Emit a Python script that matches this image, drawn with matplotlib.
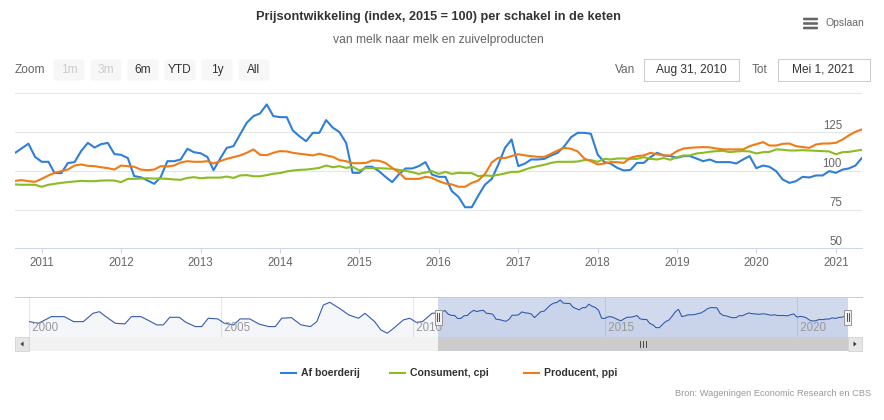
import matplotlib
matplotlib.use('Agg')
import matplotlib.pyplot as plt
import matplotlib.dates as mdates
from matplotlib.patches import Rectangle, FancyBboxPatch, Polygon
import pandas as pd

plt.rcParams['font.family'] = ['Liberation Sans Narrow', 'Liberation Sans', 'DejaVu Sans']

W, H = 884, 420

# ---- data -------------------------------------------------------------
months = pd.date_range('2010-09-01', '2021-05-01', freq='MS')

af_boerderij = [
    111.6, 114.5, 117.5, 109.0,
    105.8, 105.8, 98.5, 98.5, 105.0, 105.6, 112.7, 118.0, 115.0, 117.2, 118.0, 110.8,
    110.3, 108.2, 96.6, 95.8, 93.8, 91.6, 95.9, 106.2, 106.2, 107.3, 114.2, 112.0,
    111.3, 108.9, 100.4, 107.9, 114.8, 115.9, 123.4, 131.0, 135.3, 137.0, 142.8, 135.3,
    134.6, 134.6, 126.0, 122.2, 119.1, 124.5, 124.5, 132.7, 127.8, 125.0, 118.0, 98.7,
    98.7, 102.6, 102.6, 99.8, 96.1, 92.7, 97.6, 101.5, 101.5, 103.0, 105.6, 97.6,
    96.1, 96.1, 86.9, 83.2, 76.5, 76.5, 84.0, 91.1, 94.8, 104.0, 114.8, 120.2,
    103.0, 104.7, 107.3, 107.3, 107.7, 109.9, 111.6, 115.9, 121.7, 124.5, 124.5, 123.9,
    110.5, 105.6, 104.7, 101.9, 100.2, 100.6, 105.1, 105.1, 108.8, 111.6, 109.9, 109.5,
    108.4, 109.5, 109.5, 107.9, 106.2, 107.3, 105.6, 105.6, 105.6, 104.7, 107.3, 109.5,
    101.7, 103.4, 102.6, 99.8, 94.4, 92.2, 93.3, 96.1, 95.7, 97.0, 97.0, 99.8,
    98.7, 100.8, 101.5, 103.4, 108.4,
]

consument_cpi = [
    91.2, 91.0, 91.0, 91.0,
    89.7, 91.0, 91.6, 92.2, 92.7, 93.1, 93.5, 93.3, 93.3, 93.7, 93.8, 93.7,
    92.7, 94.8, 94.8, 95.0, 95.2, 95.0, 95.0, 94.8, 94.4, 94.2, 95.4, 95.9,
    95.2, 95.6, 95.6, 95.6, 96.3, 95.4, 97.0, 97.2, 96.5, 96.5, 97.2, 98.1,
    98.5, 99.6, 100.2, 100.6, 100.8, 101.3, 101.9, 103.4, 102.3, 103.0, 101.9, 102.6,
    100.2, 101.9, 101.7, 101.7, 101.5, 101.3, 100.6, 100.0, 99.1, 98.0, 98.9, 99.8,
    98.0, 99.3, 98.0, 98.7, 98.5, 98.5, 96.5, 97.0, 96.7, 97.4, 98.3, 99.3,
    99.3, 100.8, 102.1, 103.0, 103.9, 105.1, 105.8, 105.8, 105.8, 106.0, 106.9, 106.9,
    105.8, 107.7, 107.3, 107.9, 108.0, 107.7, 107.7, 108.8, 107.7, 107.3, 108.2, 107.1,
    108.8, 109.9, 109.9, 111.2, 111.6, 112.3, 112.7, 112.9, 112.0, 112.5, 112.7, 112.5,
    111.2, 112.0, 112.2, 113.8, 113.6, 113.1, 113.1, 113.3, 113.1, 112.9, 112.7, 112.5,
    110.7, 112.0, 112.2, 112.9, 113.5,
]

producent_ppi = [
    93.5, 94.0, 93.3, 92.9,
    94.8, 97.0, 98.7, 99.8, 100.8, 103.4, 104.1, 103.2, 103.0, 102.3, 101.7, 100.8,
    103.4, 103.0, 102.6, 100.8, 100.4, 100.8, 103.0, 102.8, 103.4, 105.4, 106.2, 105.8,
    105.8, 106.2, 104.7, 106.2, 107.7, 108.8, 109.9, 111.6, 113.8, 110.3, 110.1, 111.6,
    112.7, 112.5, 111.6, 111.0, 110.5, 109.9, 111.0, 109.9, 109.0, 106.9, 106.2, 104.9,
    104.9, 105.1, 106.7, 106.5, 105.1, 101.9, 99.1, 94.8, 94.8, 94.8, 96.1, 95.5,
    93.3, 91.8, 91.2, 89.7, 89.7, 92.2, 93.7, 98.0, 105.4, 108.4, 108.2, 109.5,
    110.7, 109.9, 109.5, 109.0, 109.0, 111.0, 113.1, 114.8, 114.2, 112.5, 107.9, 106.2,
    104.1, 104.7, 105.6, 105.6, 105.1, 108.4, 109.5, 109.9, 111.6, 110.7, 109.9, 109.9,
    112.7, 114.4, 114.8, 115.1, 115.3, 115.1, 114.4, 113.8, 113.8, 113.8, 113.8, 115.9,
    117.2, 118.5, 116.3, 116.3, 117.4, 117.6, 115.9, 115.3, 114.8, 117.0, 117.6, 117.6,
    118.1, 120.2, 122.8, 125.2, 126.7,
]

# Af boerderij before the zoomed range, read from the navigator
hist_dates = pd.to_datetime([
    '2000-01-01', '2000-04-01', '2000-08-01', '2000-12-01', '2001-03-01', '2001-06-01',
    '2001-09-01', '2001-11-01', '2002-01-01', '2002-04-01', '2002-07-01', '2002-09-01',
    '2002-12-01', '2003-02-01', '2003-05-01', '2003-07-01', '2003-09-01', '2003-12-01',
    '2004-02-01', '2004-05-01', '2004-07-01', '2004-09-01', '2004-12-01', '2005-02-01',
    '2005-05-01', '2005-07-01', '2005-10-01', '2006-01-01', '2006-04-01', '2006-06-01',
    '2006-08-01', '2006-11-01', '2007-02-01', '2007-05-01', '2007-07-01', '2007-09-01',
    '2007-11-01', '2008-02-01', '2008-05-01', '2008-08-01', '2008-10-01', '2009-01-01',
    '2009-03-01', '2009-05-01', '2009-07-01', '2009-10-01', '2009-12-01', '2010-02-01',
    '2010-04-01', '2010-07-01',
])
hist_values = [
    90.9, 87.0, 102.9, 102.9, 90.9, 90.9,
    110.9, 114.8, 102.9, 87.0, 85.4, 102.9,
    102.9, 95.0, 83.0, 83.0, 101.3, 101.3,
    89.3, 79.0, 79.0, 99.0, 97.4, 87.0,
    83.0, 97.4, 97.4, 84.6, 79.0, 79.0,
    99.0, 100.5, 83.0, 79.0, 90.9, 130.8,
    137.2, 122.9, 106.9, 99.0, 110.9, 90.9,
    71.0, 63.0, 75.0, 95.0, 99.0, 89.3,
    90.9, 110.9,
]

series_names = ['Af boerderij', 'Consument, cpi', 'Producent, ppi']
series_colors = ['#2f7ed8', '#8bbc21', '#f07b16']
year_ticks = list(range(2011, 2022))
y_ticks = [75, 100, 125, 150]
y_labels = [50, 75, 100, 125]
nav_years = [2000, 2005, 2010, 2015, 2020]
range_start = pd.Timestamp('2010-08-31')
range_end = pd.Timestamp('2021-05-01')
zoom_buttons = ['1m', '3m', '6m', 'YTD', '1y', 'All']
disabled_buttons = ['1m', '3m']

# ---- figure -----------------------------------------------------------
fig = plt.figure(figsize=(W / 100, H / 100), dpi=100)


def px_axes(l, t, r, b):
    return fig.add_axes([l / W, 1 - b / H, (r - l) / W, (b - t) / H])


def num(d):
    return mdates.date2num(pd.Timestamp(d).to_pydatetime())


xm = [num(d) for d in months]

# main chart
ax = px_axes(15, 93.3, 862, 248.3)
for vals, c, name in zip([af_boerderij, consument_cpi, producent_ppi], series_colors, series_names):
    ax.plot(xm, vals, color=c, lw=1.5, label=name,
            solid_joinstyle='round', solid_capstyle='round', zorder=3)
ax.set_xlim(num(range_start), num(range_end))
ax.set_ylim(50, 150)
for v in y_ticks:
    ax.axhline(v, color='#e6e6e6', lw=0.75, zorder=1)
for v in y_labels:
    ax.text(0.9764, v + 4.2, str(v), transform=ax.get_yaxis_transform(),
            ha='right', va='center', fontsize=8.3, color='#666666')
ax.set_yticks([])
for s in ['top', 'left', 'right']:
    ax.spines[s].set_visible(False)
ax.spines['bottom'].set_color('#ccd6eb')
ax.spines['bottom'].set_linewidth(0.75)
ax.set_xticks([num(f'{y}-01-01') for y in year_ticks])
ax.set_xticklabels([str(y) for y in year_ticks])
ax.tick_params(axis='x', colors='#ccd6eb', labelcolor='#666666', length=3.6,
               width=0.75, pad=2.5, labelsize=8.3)
ax.patch.set_alpha(0)

# navigator
nav = px_axes(29, 297, 848, 337)
nx = [num(d) for d in hist_dates] + xm
nv = hist_values + af_boerderij
nav.fill_between(nx, nv, 40, color='#335cad', alpha=0.05, lw=0)
nav.plot(nx, nv, color='#335cad', lw=0.8)
nav.set_xlim(num('2000-01-01'), num(range_end))
nav.set_ylim(54, 150)
for y in nav_years:
    nav.axvline(num(f'{y}-01-01'), color='#e6e6e6', lw=0.75, zorder=0)
    nav.text(num(f'{y}-01-01'), 0.22, f' {y}', transform=nav.get_xaxis_transform(),
             ha='left', va='center', fontsize=8.3, color='#999999')
nav.axvspan(num(range_start), num(range_end), color='#6685c2', alpha=0.3, lw=0)
nav.set_xticks([])
nav.set_yticks([])
for s in nav.spines.values():
    s.set_visible(False)

# overlay in pixel coordinates
ov = fig.add_axes([0, 0, 1, 1], zorder=10)
ov.set_xlim(0, W)
ov.set_ylim(H, 0)
ov.axis('off')
ov.patch.set_alpha(0)


def to_px(a, x):
    px, _ = a.transData.transform((x, 0))
    return px


hl = to_px(nav, num(range_start))
hr = to_px(nav, num(range_end))

ov.plot([15, 862], [297, 297], color='#cccccc', lw=0.75)
for hx in [hl, hr]:
    ov.add_patch(Rectangle((hx - 3.5, 309.5), 7, 15, fc='#f2f2f2', ec='#999999', lw=0.75))
    ov.plot([hx - 1, hx - 1], [313, 321], color='#333333', lw=0.6)
    ov.plot([hx + 1, hx + 1], [313, 321], color='#333333', lw=0.6)

# scrollbar
ov.add_patch(Rectangle((15, 337), 847, 14, fc='#f2f2f2', ec='none'))
ov.add_patch(Rectangle((hl, 337), hr - hl, 14, fc='#cccccc', ec='none'))
ov.add_patch(Rectangle((15, 337), 14, 14, fc='#e6e6e6', ec='#cccccc', lw=0.5))
ov.add_patch(Rectangle((848, 337), 14, 14, fc='#e6e6e6', ec='#cccccc', lw=0.5))
ov.add_patch(Polygon([[20.5, 344], [23.5, 341.5], [23.5, 346.5]], fc='#333333', ec='none'))
ov.add_patch(Polygon([[856.5, 344], [853.5, 341.5], [853.5, 346.5]], fc='#333333', ec='none'))
gc = (hl + hr) / 2
for dx in (-3, 0, 3):
    ov.plot([gc + dx, gc + dx], [341, 347], color='#333333', lw=0.6)

# title and subtitle
ov.text(438, 17, 'Prijsontwikkeling (index, 2015 = 100) per schakel in de keten',
        ha='center', va='center', fontsize=9.2, fontweight='bold', color='#333333')
ov.text(438, 39.5, 'van melk naar melk en zuivelproducten',
        ha='center', va='center', fontsize=8.7, color='#666666')

# export menu
for yy in (19, 23.5, 28):
    ov.add_patch(FancyBboxPatch((803, yy - 1.3), 15, 2.6, boxstyle='round,pad=0,rounding_size=1',
                                fc='#666666', ec='none'))
ov.text(826, 23.5, 'Opslaan', ha='left', va='center', fontsize=7.5, color='#666666')

# range selector
ov.text(15, 70, 'Zoom', ha='left', va='center', fontsize=8.6, color='#666666')
for i, lab in enumerate(zoom_buttons):
    bx = 53.5 + i * 37
    ov.add_patch(FancyBboxPatch((bx, 59.5), 31, 21, boxstyle='round,pad=0,rounding_size=2',
                                fc='#f7f7f7', ec='none'))
    tc = '#cccccc' if lab in disabled_buttons else '#333333'
    ov.text(bx + 15.5, 70, lab, ha='center', va='center', fontsize=8.6, color=tc)

ov.text(625, 70, 'Van', ha='center', va='center', fontsize=8.6, color='#666666')
ov.add_patch(Rectangle((643.5, 59), 95, 22, fc='white', ec='#cccccc', lw=0.75))
ov.text(691, 70, 'Aug 31, 2010', ha='center', va='center', fontsize=8.6, color='#333333')
ov.text(760, 70, 'Tot', ha='center', va='center', fontsize=8.6, color='#666666')
ov.add_patch(Rectangle((777.5, 59), 92, 22, fc='white', ec='#cccccc', lw=0.75))
ov.text(823.5, 70, 'Mei 1, 2021', ha='center', va='center', fontsize=8.6, color='#333333')

# legend
leg_x = [281, 390, 524]
for lx, c, name in zip(leg_x, series_colors, series_names):
    ov.plot([lx, lx + 15], [373, 373], color=c, lw=1.5)
    ov.text(lx + 20, 373, name, ha='left', va='center', fontsize=7.6, fontweight='bold',
            color='#333333')

# credits
ov.text(871, 393, 'Bron: Wageningen Economic Research en CBS', ha='right', va='center',
        fontsize=6.7, color='#999999')

fig.savefig('out.png', dpi=100)
